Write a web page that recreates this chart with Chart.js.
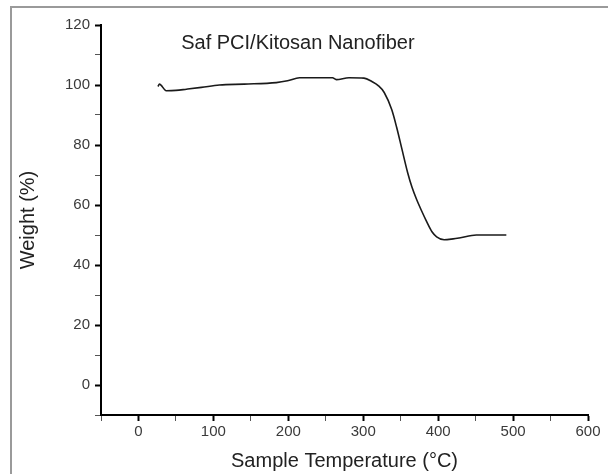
<!DOCTYPE html>
<html>
<head>
<meta charset="utf-8">
<script src="https://cdn.jsdelivr.net/npm/chart.js@4.4.0/dist/chart.umd.min.js"></script>
<style>
  html, body { margin: 0; padding: 0; background: #fff; }
  #wrap { position: relative; width: 608px; height: 474px; overflow: hidden; }
  #frame { position: absolute; left: 10px; top: 6px; width: 620px; height: 490px;
           border-left: 2px solid #9a9a9a; border-top: 2px solid #9a9a9a; }
  #chart { position: absolute; left: 0; top: 0; }
</style>
</head>
<body>
<div id="wrap">
  <div id="frame"></div>
  <canvas id="chart" width="608" height="474"></canvas>
</div>
<script>
// TGA curve
const temperatures = [26, 28, 37, 50, 64, 84, 108, 141, 184, 199, 215, 259, 264, 281, 301, 312, 320, 328, 338, 344.5, 351.5, 359.5, 365, 371, 378, 384, 392, 398, 408, 420, 428, 451, 491];
const weights = [99.5, 100.3, 98.1, 98.2, 98.6, 99.2, 100, 100.3, 100.8, 101.4, 102.4, 102.4, 101.8, 102.4, 102.3, 101.1, 99.8, 97.5, 91.8, 86, 78.8, 70.6, 66, 62, 58, 54.8, 51, 49.4, 48.4, 48.7, 49, 50, 50];

const xTickLabels = [0, 100, 200, 300, 400, 500, 600];
const yTickLabels = [0, 20, 40, 60, 80, 100, 120];

const chartTitle = 'Saf PCI/Kitosan Nanofiber';
const xTitle = 'Sample Temperature (°C)';
const yTitle = 'Weight (%)';

const FONT = 'Liberation Sans, Arial, sans-serif';

const points = temperatures.map((t, i) => ({ x: t, y: weights[i] }));

// title sits inside the plot area
const innerTitle = {
    id: 'innerTitle',
    afterDraw(chart) {
        const { ctx, scales } = chart;
        ctx.save();
        ctx.font = '20px ' + FONT;
        ctx.fillStyle = '#222';
        ctx.textBaseline = 'alphabetic';
        ctx.fillText(chartTitle, scales.x.getPixelForValue(57), scales.y.getPixelForValue(112));
        ctx.restore();
    }
};

new Chart(document.getElementById('chart'), {
    type: 'line',
    data: {
        datasets: [{
            data: points,
            borderColor: '#1a1a1a',
            borderWidth: 1.6,
            pointRadius: 0,
            fill: false,
            cubicInterpolationMode: 'monotone'
        }]
    },
    options: {
        responsive: false,
        animation: false,
        layout: { padding: { top: 25, right: 20, left: 0, bottom: 0 } },
        plugins: {
            legend: { display: false },
            tooltip: { enabled: false }
        },
        scales: {
            x: {
                type: 'linear',
                min: -50,
                max: 600,
                afterFit: (scale) => { scale.height = 59; },
                border: { color: '#000', width: 2 },
                grid: {
                    drawOnChartArea: false,
                    tickLength: 6,
                    color: (ctx) => xTickLabels.includes(ctx.tick.value) ? '#000' : '#555',
                    tickWidth: (ctx) => xTickLabels.includes(ctx.tick.value) ? 2 : 1
                },
                ticks: {
                    stepSize: 50,
                    padding: 2,
                    color: '#3a3a3a',
                    font: { size: 15, family: FONT },
                    maxRotation: 0,
                    callback: (v) => xTickLabels.includes(v) ? String(v) : ''
                },
                title: {
                    display: true,
                    text: xTitle,
                    color: '#222',
                    font: { size: 20, family: FONT },
                    padding: { top: 0, bottom: 1 }
                }
            },
            y: {
                type: 'linear',
                min: -10,
                max: 120,
                afterFit: (scale) => { scale.width = 101; },
                border: { color: '#000', width: 2 },
                grid: {
                    drawOnChartArea: false,
                    tickLength: 6,
                    color: (ctx) => yTickLabels.includes(ctx.tick.value) ? '#000' : '#555',
                    tickWidth: (ctx) => yTickLabels.includes(ctx.tick.value) ? 2 : 1
                },
                ticks: {
                    stepSize: 10,
                    padding: 5,
                    color: '#3a3a3a',
                    font: { size: 15, family: FONT },
                    callback: (v) => yTickLabels.includes(v) ? String(v) : ''
                },
                title: {
                    display: true,
                    text: yTitle,
                    color: '#222',
                    font: { size: 20, family: FONT },
                    padding: { top: 16, bottom: 0 }
                }
            }
        }
    },
    plugins: [innerTitle]
});
</script>
</body>
</html>
